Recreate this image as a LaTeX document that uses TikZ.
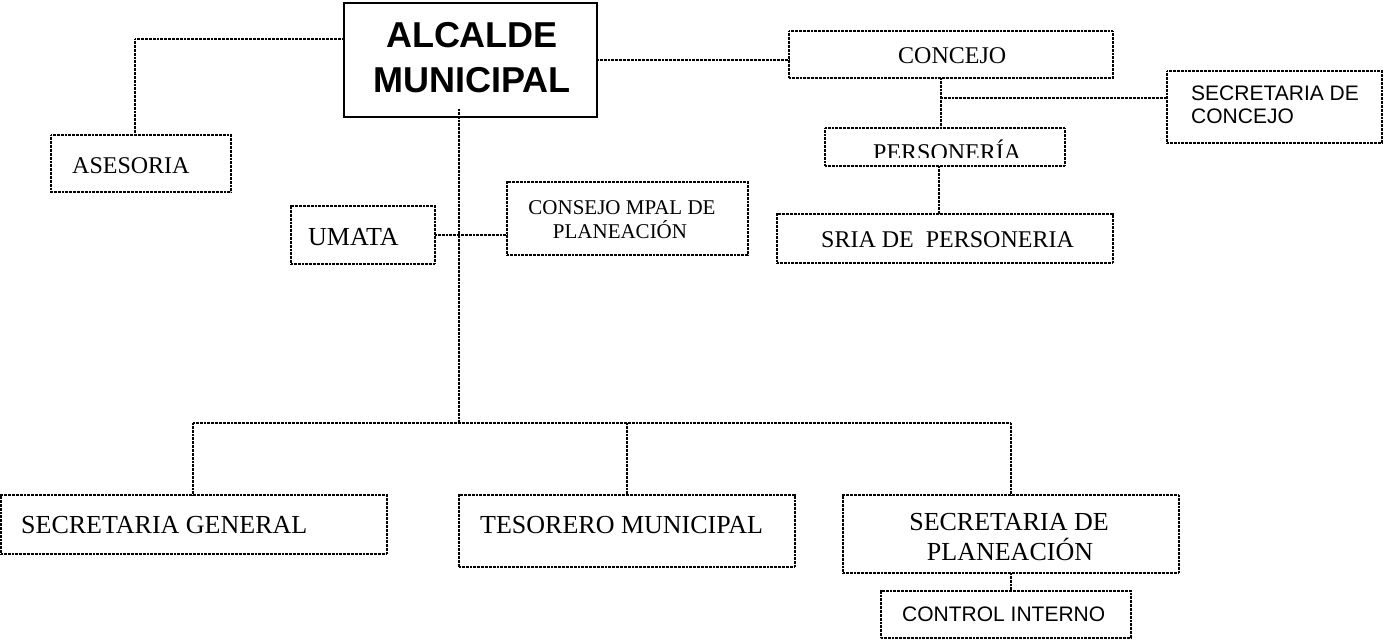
\documentclass[tikz,border=0pt]{standalone}
\usepackage{fontspec}
\setmainfont{Liberation Serif}
\newfontfamily\arialf{Liberation Sans}
\usetikzlibrary{calc}
\begin{document}
\begin{tikzpicture}[x=1pt,y=-1pt,
  dbox/.style={draw, line width=1.6pt, dash pattern=on 0.9pt off 0.45pt, inner sep=0pt, outer sep=0pt, anchor=north west},
  sbox/.style={draw, line width=2.2pt, inner sep=0pt, outer sep=0pt, anchor=north west},
  conn/.style={line width=1.6pt, dash pattern=on 0.9pt off 0.45pt},
  tm/.style={inner sep=0pt, font=\fontsize{24}{24}\selectfont},
  tl/.style={inner sep=0pt, font=\fontsize{26}{26}\selectfont},
  ts/.style={inner sep=0pt, font=\fontsize{21}{21}\selectfont},
  ar/.style={inner sep=0pt, font=\arialf\fontsize{21}{21}\selectfont},
  ab/.style={inner sep=0pt, font=\arialf\bfseries\fontsize{36}{36}\selectfont}]
\useasboundingbox (0,0) rectangle (1384,641);
% boxes
\node[sbox, minimum width=253pt, minimum height=114pt] (alc) at (344,3) {};
\node[dbox, minimum width=180pt, minimum height=57pt] (ases) at (51,135) {};
\node[dbox, minimum width=324pt, minimum height=47pt] (conc) at (789,31) {};
\node[dbox, minimum width=215pt, minimum height=72pt] (secc) at (1167,71) {};
\node[dbox, minimum width=240pt, minimum height=38pt] (pers) at (825,128) {};
\node[dbox, minimum width=336pt, minimum height=49pt] (sria) at (777,214) {};
\node[dbox, minimum width=144pt, minimum height=58pt] (umata) at (291,206) {};
\node[dbox, minimum width=241pt, minimum height=73pt] (cmp) at (507,182) {};
\node[dbox, minimum width=386pt, minimum height=59pt] (secg) at (1,495) {};
\node[dbox, minimum width=336pt, minimum height=72pt] (tes) at (459,495) {};
\node[dbox, minimum width=336pt, minimum height=78pt] (splan) at (843,495) {};
\node[dbox, minimum width=250pt, minimum height=47pt] (ctrl) at (881,591) {};
% texts
\node[ab, anchor=base] (t1) at (472,47) {ALCALDE};
\node[ab, anchor=base] (t2) at (472,92) {MUNICIPAL};
\node[tm, anchor=base west] (t3) at (72,173) {ASESORIA};
\node[tm, anchor=base west] (t4) at (898,63) {CONCEJO};
\node[ar, anchor=base west] (t5) at (1191,100) {SECRETARIA DE};
\node[ar, anchor=base west] (t6) at (1191,123) {CONCEJO};
\begin{scope}
\clip (826,129) rectangle (1064,157.5);
\node[tm, anchor=base west] (t7) at (873,160) {PERSONERÍA};
\end{scope}
\node[tm, anchor=base west] (t8) at (821,247) {SRIA DE\ \ PERSONERIA};
\node[tl, anchor=base west] (t9) at (308,245) {UMATA};
\node[ts, anchor=base] (t10) at (622,214) {CONSEJO MPAL DE};
\node[ts, anchor=base] (t11) at (620,238) {PLANEACIÓN};
\node[tl, anchor=base west] (t12) at (21,533) {SECRETARIA GENERAL};
\node[tl, anchor=base west] (t13) at (480,533) {TESORERO MUNICIPAL};
\node[tl, anchor=base] (t14) at (1009,530) {SECRETARIA DE};
\node[tl, anchor=base] (t15) at (1010,560) {PLANEACIÓN};
\node[ar, anchor=base west] (t16) at (902,621) {CONTROL INTERNO};
% connectors
\draw[conn] ([yshift=-36pt]alc.north west) -| ([xshift=-6pt]ases.north);
\draw[conn] ([yshift=-57pt]alc.north east) coordinate (r) -- (r -| conc.west);
\draw[conn] ([xshift=-10pt]conc.south) coordinate (c1) -- (c1 |- pers.north);
\draw[conn] ([yshift=-20pt]c1) coordinate (c2) -- (c2 -| secc.west);
\draw[conn] ([xshift=-6pt]pers.south) coordinate (p1) -- (p1 |- sria.north);
\draw[conn] (umata.east) -- (umata.east -| cmp.west);
\coordinate (busL) at (193,423);
\coordinate (busR) at (1011,423);
\draw[conn] ([xshift=-11.5pt,yshift=8pt]alc.south) coordinate (a1) -- (a1 |- busL);
\draw[conn] (busL) -- (busR);
\draw[conn] (busL) -- (busL |- secg.north);
\draw[conn] (tes.north |- busL) -- (tes.north);
\draw[conn] (splan.north |- busL) -- (splan.north);
\draw[conn] (splan.south) -- (splan.south |- ctrl.north);
\end{tikzpicture}
\end{document}
